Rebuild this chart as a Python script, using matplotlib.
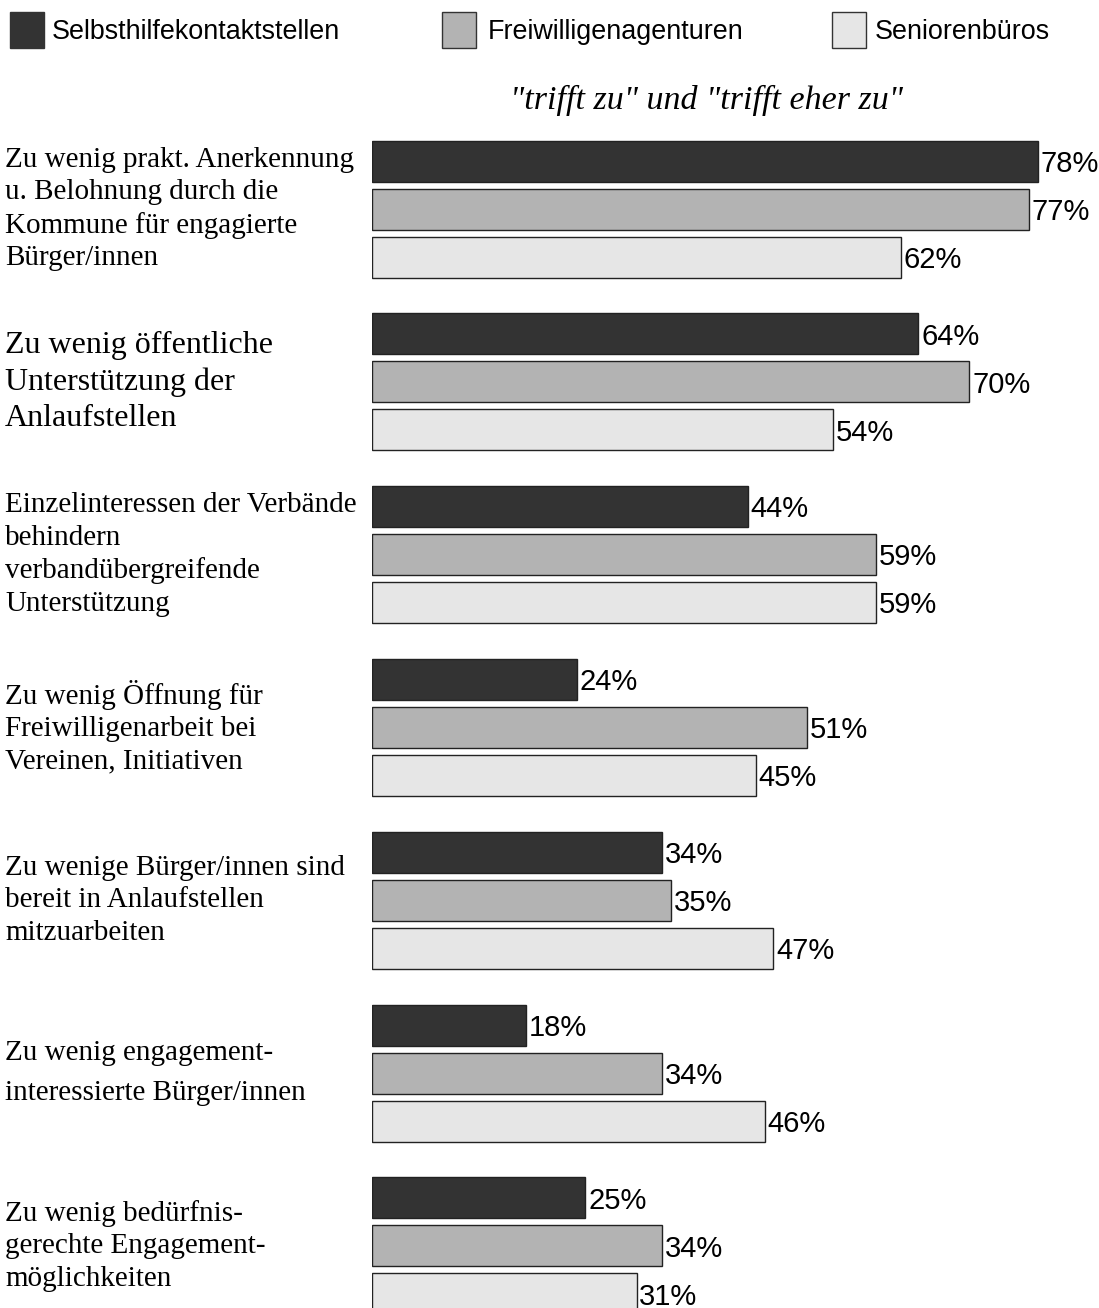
import numpy as np
import matplotlib.pyplot as plt
from matplotlib.patches import Rectangle
from matplotlib.transforms import blended_transform_factory

categories = [
    "Zu wenig prakt. Anerkennung\nu. Belohnung durch die\nKommune für engagierte\nBürger/innen",
    "Zu wenig öffentliche\nUnterstützung der\nAnlaufstellen",
    "Einzelinteressen der Verbände\nbehindern\nverbandübergreifende\nUnterstützung",
    "Zu wenig Öffnung für\nFreiwilligenarbeit bei\nVereinen, Initiativen",
    "Zu wenige Bürger/innen sind\nbereit in Anlaufstellen\nmitzuarbeiten",
    "Zu wenig engagement-\ninteressierte Bürger/innen",
    "Zu wenig bedürfnis-\ngerechte Engagement-\nmöglichkeiten",
]
series_names = ["Selbsthilfekontaktstellen", "Freiwilligenagenturen", "Seniorenbüros"]
selbsthilfe = [78, 64, 44, 24, 34, 18, 25]
freiwillige = [77, 70, 59, 51, 35, 34, 34]
senioren = [62, 54, 59, 45, 47, 46, 31]
subtitle = '"trifft zu" und "trifft eher zu"'

colors = ["#333333", "#b3b3b3", "#e6e6e6"]
W, H = 1099, 1308
fig = plt.figure(figsize=(W / 100, H / 100), dpi=100)

# axes area: bars start at x=372px, y area from 130px to bottom
ax = fig.add_axes([372 / W, 0, 1 - 372 / W, (H - 130) / H])
px_per_unit = 172.8
ax.set_xlim(0, (W - 372) / 8.535)
ax.set_ylim((H - 209) / px_per_unit, -79 / px_per_unit)
ax.axis("off")

y = np.arange(len(categories))
pitch = 48 / px_per_unit
bh = 41 / px_per_unit
for k, vals in enumerate([selbsthilfe, freiwillige, senioren]):
    pos = y + (k - 1) * pitch
    bars = ax.barh(pos, vals, height=bh, color=colors[k], edgecolor="#222222", linewidth=1.0)
    for b, v in zip(bars, vals):
        ax.annotate(f"{v}%", (b.get_width(), b.get_y() + b.get_height() / 2),
                    xytext=(2, -2), textcoords="offset points", va="center", ha="left",
                    fontsize=21, family="Liberation Sans", color="black")

trans = blended_transform_factory(fig.transFigure, ax.transData)
for i, lab in enumerate(categories):
    size = 23 if i == 1 else 21
    ls = {1: 1.33, 5: 1.73}.get(i, 1.32)
    fig.text(5 / W, y[i], lab, transform=trans, ha="left", va="center",
             fontsize=size, family="Liberation Serif", linespacing=ls, color="black")

fig.text(706 / W, 1 - 100 / H, subtitle, ha="center", va="center", fontsize=24.5,
         family="Liberation Serif", style="italic")

# legend drawn by hand, positions in pixels
box_x = [10, 442, 832]
text_x = [52, 488, 875]
for c, name, bx, tx in zip(colors, series_names, box_x, text_x):
    fig.patches.append(Rectangle((bx / W, 1 - 48 / H), 34 / W, 36 / H, transform=fig.transFigure,
                                 facecolor=c, edgecolor="#333333", linewidth=1.0))
    fig.text(tx / W, 1 - 32 / H, name, ha="left", va="center", fontsize=19.4,
             family="Liberation Sans")

fig.savefig("out.png", dpi=100)
